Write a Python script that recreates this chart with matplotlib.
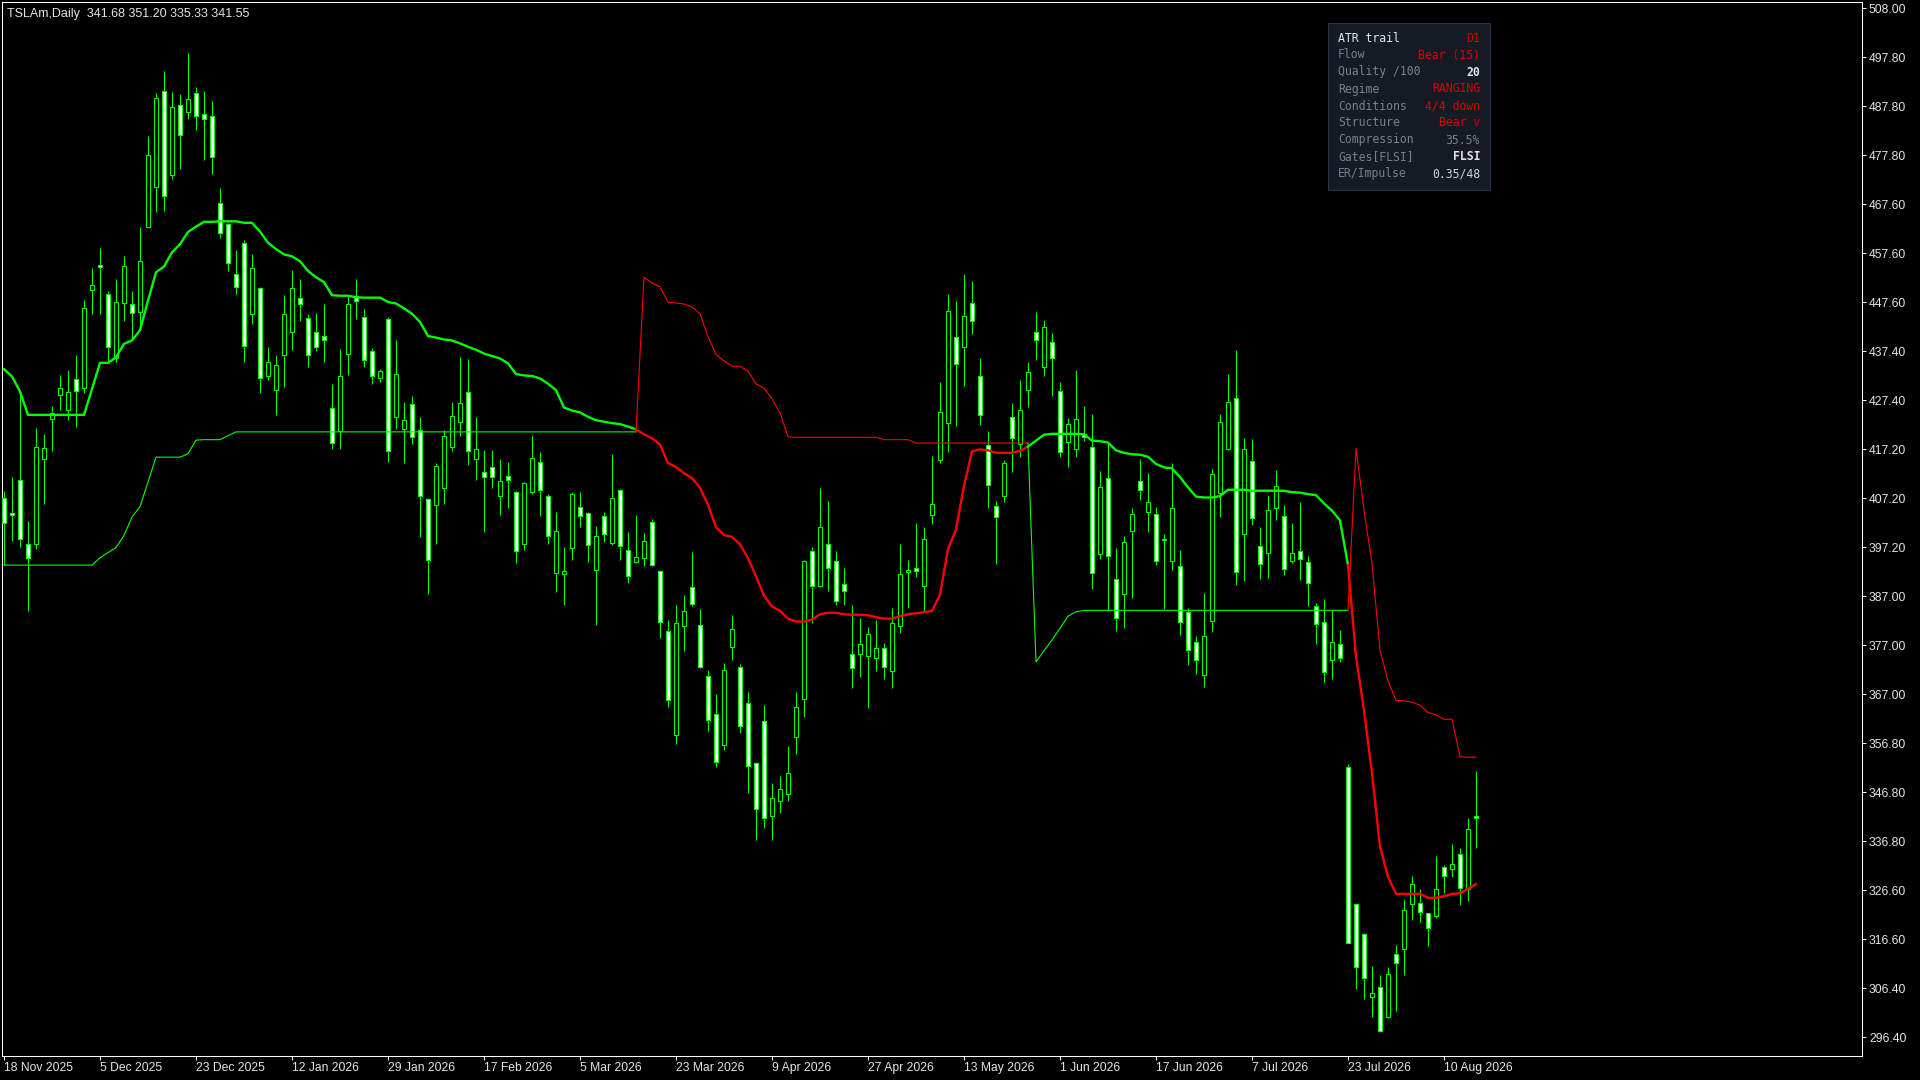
import matplotlib
matplotlib.use('Agg')
import matplotlib.pyplot as plt
from matplotlib.patches import Rectangle
import numpy as np

# daily bars, oldest first
opens = [
    407.4, 404.3, 411.1, 397.9, 397.9, 415.3, 423.5, 428.5, 425.4, 431.7,
    429.9, 450.0, 455.0, 449.2, 436.1, 447.4, 447.1, 445.6, 463.1, 471.2,
    491.1, 473.7, 488.2, 486.6, 490.5, 486.2, 485.9, 468.0, 463.6, 453.4,
    459.8, 445.2, 450.5, 432.3, 429.6, 436.7, 441.4, 448.4, 444.3, 441.4,
    440.6, 425.8, 421.0, 437.0, 448.6, 444.6, 437.6, 431.9, 444.1, 423.9,
    421.4, 426.6, 421.2, 407.2, 405.8, 409.3, 417.8, 423.0, 429.1, 415.4,
    412.6, 413.6, 407.8, 411.9, 408.5, 397.8, 408.5, 414.7, 407.7, 391.9,
    391.6, 397.0, 405.4, 404.3, 392.5, 403.5, 398.0, 409.0, 396.7, 394.1,
    394.9, 402.3, 392.3, 379.9, 358.5, 380.9, 389.1, 381.1, 370.8, 362.8,
    356.5, 376.7, 372.6, 365.2, 352.9, 361.5, 342.0, 344.9, 346.4, 358.2,
    366.0, 396.4, 389.3, 397.8, 394.3, 389.7, 375.2, 375.2, 374.8, 374.5,
    376.5, 371.8, 380.9, 392.1, 393.0, 389.3, 403.9, 415.2, 422.8, 440.4,
    438.4, 447.4, 432.4, 418.2, 405.7, 407.8, 423.9, 418.4, 429.5, 441.4,
    434.2, 439.3, 429.4, 418.8, 417.3, 420.5, 417.7, 395.7, 411.4, 390.6,
    387.6, 400.6, 410.9, 404.5, 404.0, 398.7, 394.4, 393.3, 383.8, 377.6,
    370.9, 382.1, 408.4, 417.4, 427.8, 399.8, 415.0, 397.5, 395.9, 405.2,
    403.7, 394.4, 396.5, 394.1, 385.0, 381.9, 374.0, 377.3, 351.9, 323.8,
    317.6, 304.6, 306.8, 300.6, 313.6, 314.5, 323.9, 324.1, 321.9, 321.4,
    331.5, 331.1, 334.0, 327.0, 341.68,
]
highs = [
    408.7, 411.7, 429.2, 402.6, 421.6, 420.5, 426.3, 432.7, 433.6, 436.8,
    448.0, 454.5, 458.8, 449.8, 452.4, 457.0, 449.8, 463.1, 481.7, 490.5,
    495.1, 490.7, 490.3, 498.9, 491.8, 490.9, 489.0, 471.1, 463.9, 458.2,
    460.3, 457.4, 450.7, 438.4, 436.8, 449.0, 454.2, 452.4, 445.2, 445.4,
    447.1, 430.7, 438.0, 449.0, 452.4, 446.1, 438.2, 433.9, 444.5, 439.7,
    427.1, 428.3, 423.9, 407.3, 414.4, 421.2, 427.1, 436.2, 435.9, 423.9,
    417.1, 417.1, 415.3, 414.8, 408.8, 410.5, 420.3, 416.7, 408.2, 404.5,
    397.2, 408.5, 408.5, 404.5, 401.5, 404.5, 416.3, 409.2, 400.4, 403.9,
    400.1, 403.0, 392.5, 382.3, 385.4, 387.4, 396.2, 384.4, 372.0, 367.1,
    373.4, 383.3, 373.2, 367.5, 353.1, 364.7, 348.8, 350.2, 356.3, 367.5,
    394.6, 397.2, 409.3, 406.7, 396.4, 393.0, 385.4, 382.7, 380.7, 382.3,
    377.5, 384.6, 397.8, 394.5, 402.1, 401.4, 415.9, 431.1, 449.2, 447.8,
    453.3, 451.9, 436.0, 421.1, 406.7, 415.1, 426.8, 431.6, 435.2, 445.5,
    443.9, 441.2, 431.1, 423.7, 433.6, 426.2, 424.6, 412.9, 418.6, 397.0,
    399.4, 405.2, 415.3, 412.4, 405.5, 399.8, 414.6, 396.6, 384.6, 378.9,
    387.8, 413.2, 424.6, 432.8, 437.8, 419.6, 419.4, 401.4, 407.9, 413.1,
    405.9, 402.1, 406.4, 395.4, 385.8, 386.5, 384.3, 380.2, 352.6, 324.1,
    317.9, 311.0, 309.2, 310.9, 315.4, 324.6, 329.6, 327.0, 322.0, 333.7,
    331.9, 336.1, 335.4, 341.6, 351.20,
]
lows = [
    393.6, 398.4, 397.3, 384.0, 396.9, 406.0, 416.9, 425.4, 423.3, 422.0,
    428.9, 445.2, 445.2, 435.3, 435.3, 443.7, 440.3, 441.8, 463.1, 466.1,
    466.4, 473.0, 474.9, 485.2, 482.9, 476.8, 473.9, 460.8, 454.0, 449.2,
    435.2, 443.1, 428.9, 431.5, 424.3, 430.1, 437.8, 443.7, 434.2, 437.6,
    435.3, 417.4, 417.4, 432.7, 444.1, 434.2, 430.8, 431.1, 414.8, 421.5,
    414.4, 418.4, 399.2, 387.5, 397.9, 406.0, 416.9, 420.1, 414.0, 411.0,
    400.3, 409.4, 403.9, 405.3, 394.0, 396.7, 408.2, 403.5, 397.8, 388.0,
    385.4, 394.5, 401.4, 394.1, 381.2, 398.2, 397.6, 394.6, 389.9, 393.9,
    393.3, 393.3, 378.6, 364.4, 356.8, 375.9, 385.0, 372.4, 359.4, 352.0,
    355.5, 374.0, 358.9, 346.6, 337.0, 339.5, 337.0, 342.5, 345.0, 354.7,
    362.3, 381.7, 389.1, 388.2, 385.2, 385.2, 368.3, 370.4, 364.2, 371.8,
    370.1, 368.3, 379.5, 384.6, 391.1, 384.1, 401.9, 414.4, 416.7, 422.2,
    430.3, 441.1, 422.4, 405.3, 393.7, 406.4, 412.7, 415.8, 426.1, 435.6,
    432.4, 428.2, 415.7, 413.6, 415.8, 419.1, 388.5, 394.7, 384.2, 380.0,
    380.5, 386.7, 406.9, 400.4, 393.5, 384.4, 392.6, 379.1, 373.0, 371.2,
    368.4, 379.8, 403.3, 417.2, 389.4, 390.3, 401.8, 390.6, 390.8, 402.8,
    391.5, 393.9, 390.4, 385.1, 377.2, 369.5, 370.0, 373.6, 315.7, 306.4,
    304.2, 300.6, 297.5, 300.4, 301.8, 309.2, 320.5, 320.2, 315.2, 321.0,
    326.1, 329.4, 323.6, 324.5, 335.33,
]
closes = [
    402.1, 403.9, 398.8, 395.0, 417.8, 417.6, 424.7, 430.0, 429.2, 429.4,
    446.3, 451.2, 454.8, 438.4, 447.6, 455.0, 445.4, 456.0, 477.8, 489.5,
    469.4, 487.8, 481.9, 489.4, 485.9, 485.3, 477.5, 461.9, 455.6, 450.7,
    438.5, 454.7, 431.9, 435.3, 434.7, 445.2, 450.4, 447.3, 436.7, 438.4,
    439.7, 418.6, 432.3, 447.3, 447.8, 435.7, 432.4, 433.4, 416.9, 432.8,
    423.3, 419.9, 407.8, 394.6, 413.9, 420.1, 424.1, 426.8, 416.9, 417.4,
    411.7, 411.6, 410.7, 411.1, 396.4, 410.4, 415.5, 408.9, 399.4, 400.6,
    392.3, 408.1, 403.7, 397.6, 399.4, 399.8, 407.4, 397.4, 391.2, 395.2,
    398.4, 393.5, 381.9, 365.7, 381.6, 384.1, 385.6, 372.6, 361.6, 353.1,
    372.0, 380.4, 360.4, 352.1, 343.3, 341.5, 345.6, 347.5, 350.8, 364.4,
    394.3, 389.3, 401.3, 392.9, 386.2, 388.2, 372.4, 377.3, 379.3, 376.4,
    372.6, 381.7, 391.7, 392.5, 392.3, 398.8, 406.1, 424.9, 445.8, 434.8,
    444.7, 443.7, 424.4, 410.0, 403.4, 414.4, 419.6, 425.5, 433.2, 439.8,
    442.4, 436.0, 416.7, 422.5, 423.5, 419.9, 391.8, 409.5, 395.4, 382.6,
    398.3, 404.0, 409.0, 406.4, 394.4, 398.6, 405.2, 381.9, 376.1, 374.0,
    379.0, 412.2, 422.9, 427.1, 392.0, 417.3, 403.1, 393.7, 404.8, 409.8,
    392.7, 395.9, 394.7, 389.8, 381.4, 371.5, 377.6, 374.5, 315.8, 310.8,
    308.5, 305.6, 297.7, 309.5, 311.6, 322.6, 328.0, 322.1, 318.8, 327.0,
    329.6, 332.1, 327.2, 339.3, 341.55,
]

# ATR trail (thick) and stop band (thin)
trail = [
    433.8, 432.3, 429.2, 424.4, 424.4, 424.4, 424.4, 424.4, 424.4, 424.4,
    424.4, 429.7, 435.1, 435.1, 436.2, 439.0, 439.7, 441.8, 447.9, 453.7,
    454.9, 457.8, 459.5, 462.0, 463.1, 464.1, 464.1, 464.2, 464.2, 464.2,
    463.9, 463.9, 462.1, 459.8, 458.5, 457.4, 457.0, 456.0, 454.0, 452.7,
    451.7, 449.0, 448.9, 448.9, 448.6, 448.5, 448.5, 448.5, 447.6, 447.3,
    446.3, 445.2, 443.5, 440.6, 440.3, 439.9, 439.7, 439.1, 438.4, 437.8,
    437.0, 436.5, 436.0, 435.0, 432.8, 432.5, 432.4, 431.9, 430.8, 429.5,
    425.9, 425.3, 424.9, 424.0, 423.3, 423.0, 422.7, 422.5, 422.0, 421.4,
    420.4, 419.6, 418.3, 414.5, 413.7, 412.4, 411.4, 409.4, 405.9, 401.3,
    399.7, 399.3, 397.8, 394.9, 391.2, 387.2, 385.0, 384.1, 382.5, 381.9,
    381.9, 382.3, 383.4, 383.7, 383.7, 383.4, 383.3, 383.3, 383.2, 382.8,
    382.5, 382.5, 383.0, 383.4, 383.6, 383.8, 384.1, 387.4, 396.8, 400.8,
    409.8, 416.9, 417.3, 417.1, 416.6, 416.6, 416.6, 417.0, 417.9, 419.1,
    420.3, 420.5, 420.5, 420.5, 420.5, 420.4, 419.1, 419.0, 418.7, 417.1,
    416.6, 416.3, 416.2, 415.8, 414.3, 413.6, 413.4, 411.6, 409.5, 407.6,
    407.4, 407.4, 407.7, 409.0, 409.0, 409.0, 408.8, 408.8, 408.8, 408.8,
    408.8, 408.5, 408.4, 408.1, 407.9, 406.2, 404.7, 402.7, 393.5, 374.7,
    363.7, 350.7, 335.6, 329.4, 325.9, 325.9, 325.9, 325.9, 325.1, 325.1,
    325.4, 325.9, 326.0, 326.9, 327.9,
]
stop = [
    393.5, 393.5, 393.5, 393.5, 393.5, 393.5, 393.5, 393.5, 393.5, 393.5,
    393.5, 393.5, 395.0, 396.1, 397.1, 399.6, 403.4, 405.5, 410.6, 415.7,
    415.7, 415.7, 415.7, 416.4, 419.2, 419.3, 419.3, 419.3, 420.1, 420.9,
    420.9, 420.9, 420.9, 420.9, 420.9, 420.9, 420.9, 420.9, 420.9, 420.9,
    420.9, 420.9, 420.9, 420.9, 420.9, 420.9, 420.9, 420.9, 420.9, 420.9,
    420.9, 420.9, 420.9, 420.9, 420.9, 420.9, 420.9, 420.9, 420.9, 420.9,
    420.9, 420.9, 420.9, 420.9, 420.9, 420.9, 420.9, 420.9, 420.9, 420.9,
    420.9, 420.9, 420.9, 420.9, 420.9, 420.9, 420.9, 420.9, 420.9, 420.9,
    452.7, 451.5, 450.7, 447.6, 447.4, 447.2, 446.6, 445.2, 440.5, 436.8,
    435.5, 434.4, 434.4, 433.4, 430.8, 429.9, 427.7, 424.8, 419.9, 419.8,
    419.8, 419.8, 419.8, 419.8, 419.8, 419.8, 419.8, 419.8, 419.8, 419.8,
    419.3, 419.3, 419.3, 419.3, 418.6, 418.6, 418.6, 418.6, 418.6, 418.6,
    418.6, 418.6, 418.6, 418.6, 418.6, 418.6, 418.6, 418.6, 418.6, 373.6,
    375.9, 378.1, 380.5, 383.0, 383.9, 384.2, 384.2, 384.2, 384.2, 384.2,
    384.2, 384.2, 384.2, 384.2, 384.2, 384.2, 384.2, 384.2, 384.2, 384.2,
    384.2, 384.2, 384.2, 384.2, 384.2, 384.2, 384.2, 384.2, 384.2, 384.2,
    384.2, 384.2, 384.2, 384.2, 384.2, 384.2, 384.2, 384.2, 384.2, 417.5,
    404.8, 393.9, 376.0, 369.7, 365.7, 365.6, 365.3, 364.7, 363.2, 362.7,
    361.8, 361.8, 354.1, 354.0, 354.0,
]
# bars where the trail flips (bull -> bear -> bull -> bear)
flip_bars = [80, 129, 169]

date_labels = ['18 Nov 2025', '5 Dec 2025', '23 Dec 2025', '12 Jan 2026',
               '29 Jan 2026', '17 Feb 2026', '5 Mar 2026', '23 Mar 2026',
               '9 Apr 2026', '27 Apr 2026', '13 May 2026', '1 Jun 2026',
               '17 Jun 2026', '7 Jul 2026', '23 Jul 2026', '10 Aug 2026']
date_every = 12
price_labels = ['508.00', '497.80', '487.80', '477.80', '467.60', '457.60',
                '447.60', '437.40', '427.40', '417.20', '407.20', '397.20',
                '387.00', '377.00', '367.00', '356.80', '346.80', '336.80',
                '326.60', '316.60', '306.40', '296.40']

title = 'TSLAm,Daily  341.68 351.20 335.33 341.55'
panel_keys = ['ATR trail', 'Flow', 'Quality /100', 'Regime', 'Conditions',
              'Structure', 'Compression', 'Gates[FLSI]', 'ER/Impulse']
panel_vals = ['D1', 'Bear (15)', '20', 'RANGING', '4/4 down', 'Bear v',
              '35.5%', 'FLSI', '0.35/48']

GREEN = '#00ff00'
RED = '#ff0000'
TXT = '#e4e4e4'
PANEL_RED = '#dc0000'
PANEL_GREY = '#7a818c'
W, H = 1920, 1080

fig = plt.figure(figsize=(19.2, 10.8), dpi=100, facecolor='black')
ax = fig.add_axes([2 / W, 1 - 1055.7 / H, 1860 / W, 1053.7 / H])
ax.set_facecolor('black')

o = np.array(opens)
h = np.array(highs)
l = np.array(lows)
c = np.array(closes)
x = np.arange(len(o))
bear = c < o

ax.vlines(x, l, h, color=GREEN, lw=0.8, zorder=2)
body_bot = np.minimum(o, c)
body_h = np.maximum(np.abs(c - o), 0.35)
ax.bar(x, body_h, bottom=body_bot, width=0.56,
       color=np.where(bear, 'white', 'black'), edgecolor=GREEN,
       linewidth=0.8, zorder=3)

# trail lines coloured by state
bounds = [0] + flip_bars + [len(x)]
for j in range(len(bounds) - 1):
    a, b = bounds[j], bounds[j + 1]
    col = GREEN if j % 2 == 0 else RED
    s = max(a - 1, 0)
    ax.plot(x[s:b], np.array(trail)[s:b], color=col, lw=1.7, zorder=4,
            solid_joinstyle='miter')
    ax.plot(x[s:b], np.array(stop)[s:b], color=col, lw=0.8, zorder=4)

ax.set_xlim(-0.25, 232.25)
ax.set_ylim(292.62, 509.3)

ax.yaxis.tick_right()
ax.set_yticks(np.linspace(508.0, 296.4, len(price_labels)), labels=price_labels)
ax.set_xticks(np.arange(len(date_labels)) * date_every, labels=date_labels)
for lab in ax.get_xticklabels():
    lab.set_horizontalalignment('left')
ax.tick_params(axis='both', direction='out', length=3, width=0.7,
               color='white', labelcolor=TXT, labelsize=8.7)
ax.tick_params(axis='y', pad=2)
ax.tick_params(axis='x', pad=1.5)
for lab in ax.get_xticklabels() + ax.get_yticklabels():
    lab.set_family('Liberation Sans')
for sp in ax.spines.values():
    sp.set_color('white')
    sp.set_linewidth(0.75)

fig.text(7 / W, 1 - 13.5 / H, title, color=TXT, fontsize=9,
         family='Liberation Sans', va='center', ha='left')

# info panel
fig.add_artist(Rectangle((1328 / W, 1 - 189.7 / H), 161.7 / W, 167 / H,
                         transform=fig.transFigure, facecolor='#151a24',
                         edgecolor='#2d3442', lw=0.8, zorder=10))
val_colors = [PANEL_RED, PANEL_RED, TXT, PANEL_RED, PANEL_RED, PANEL_RED,
              PANEL_GREY, TXT, '#d0d4da']
for k, (key, val) in enumerate(zip(panel_keys, panel_vals)):
    yy = 1 - (38 + 17 * k) / H
    fig.text(1338 / W, yy, key, color=TXT if k == 0 else PANEL_GREY,
             fontsize=8.3, family='DejaVu Sans Mono', va='center', ha='left',
             zorder=11)
    fig.text(1480 / W, yy, val, color=val_colors[k], fontsize=8.3,
             family='DejaVu Sans Mono', va='center', ha='right', zorder=11,
             weight='bold' if val in ('20', 'FLSI') else 'normal')

fig.savefig('out.png', dpi=100, facecolor='black')
